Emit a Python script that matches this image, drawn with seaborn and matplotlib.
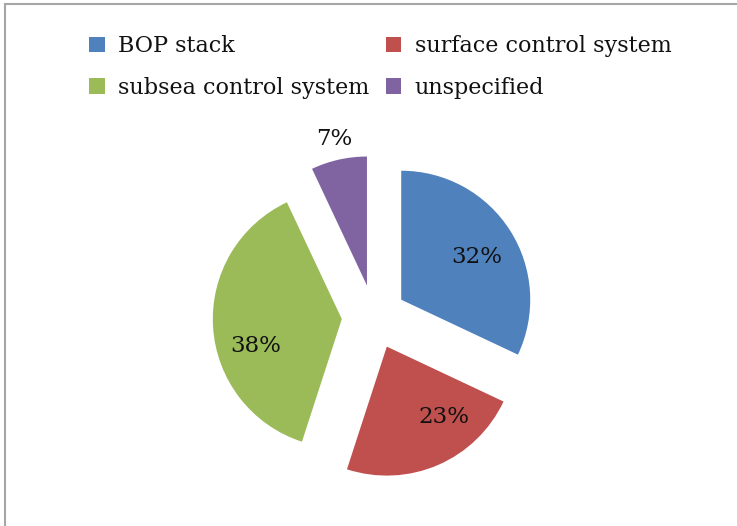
import matplotlib
matplotlib.use("Agg")
import matplotlib.pyplot as plt
from matplotlib.patches import Patch
from matplotlib.lines import Line2D
import numpy as np
import seaborn as sns

# Share of failures by component
categories = ["BOP stack", "surface control system", "subsea control system", "unspecified"]
shares = [32, 23, 38, 7]
colors = ["#4F81BD", "#C0504D", "#9BBB59", "#8064A2"]

sns.set_theme(style="white")
plt.rcParams["font.family"] = ["DejaVu Serif"]

W, H, DPI = 737, 526, 100
fig = plt.figure(figsize=(W / DPI, H / DPI), dpi=DPI)
ax = fig.add_axes([0, 0, 1, 1])

palette = sns.color_palette(colors)
wedges, _ = ax.pie(
    shares,
    colors=palette,
    startangle=90,
    counterclock=False,
    explode=[0.25] * len(shares),
    wedgeprops=dict(linewidth=0),
)

# Pie radius of 129 px, centred at (374, 317) from the top-left
r_px, cx, cy = 129.0, 374.0, 317.0
ax.set_xlim(-cx / r_px, (W - cx) / r_px)
ax.set_ylim(-(H - cy) / r_px, cy / r_px)
ax.set_aspect("auto")
ax.axis("off")

# Percentage labels: distance from each wedge's tip (in radii) and a small
# angular nudge away from the bisector; the thin slice is labelled outside
label_dist = [0.67, 0.70, 0.70, 1.16]
label_turn = [-3.0, 15.5, 14.0, 0.0]
for w, v, d, t in zip(wedges, shares, label_dist, label_turn):
    mid = np.deg2rad((w.theta1 + w.theta2) / 2 + t)
    x0, y0 = w.center
    ax.text(x0 + d * np.cos(mid), y0 + d * np.sin(mid), f"{v}%",
            ha="center", va="center", fontsize=16.5, color="#111111")

# Two-column legend across the top (filled column by column)
order = [0, 2, 1, 3]
handles = [Patch(facecolor=colors[i], edgecolor="none") for i in order]
labels = [categories[i] for i in order]
fig.legend(handles, labels, ncol=2, loc="upper left",
           bbox_to_anchor=(78 / W, 1 - 24 / H),
           frameon=False, fontsize=16, labelcolor="#111111",
           handlelength=0.7, handleheight=0.7, handletextpad=0.6,
           columnspacing=0.74, labelspacing=0.88, borderpad=0.0)

# Grey frame lines on the left and top edges
fig.add_artist(Line2D([5 / W, 5 / W], [0, 1 - 4 / H], transform=fig.transFigure,
                      color="#a6a6a6", linewidth=1.5))
fig.add_artist(Line2D([5 / W, 1], [1 - 4 / H, 1 - 4 / H], transform=fig.transFigure,
                      color="#a6a6a6", linewidth=1.5))

fig.savefig("out.png", dpi=DPI, facecolor="white")
